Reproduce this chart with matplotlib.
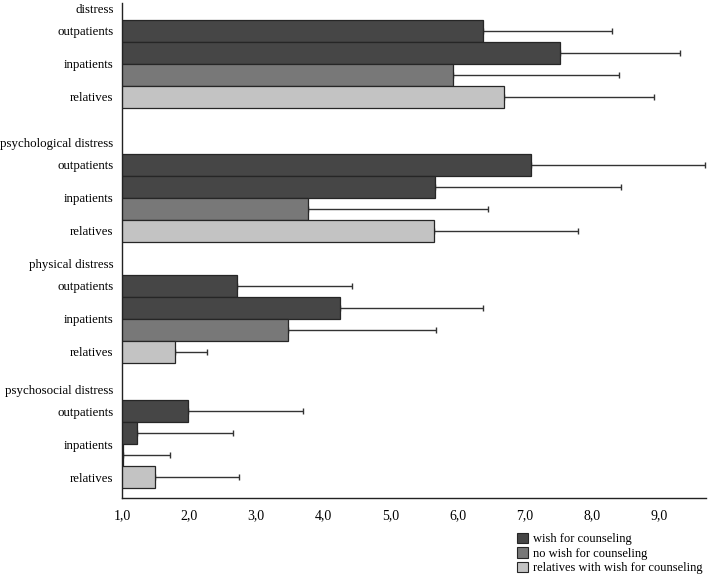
import numpy as np
import matplotlib
matplotlib.use("Agg")
import matplotlib.pyplot as plt
from matplotlib.patches import Patch

plt.rcParams['font.family'] = ['Liberation Serif', 'DejaVu Serif']

# Data: mean values and upper end of error bars (mean + SD)
groups = ["distress", "psychological distress", "physical distress", "psychosocial distress"]
out_mean = [6.38, 7.10, 2.72, 1.99]
out_err = [8.30, 9.69, 4.42, 3.69]
in_wish_mean = [7.52, 5.67, 4.25, 1.23]
in_wish_err = [9.31, 8.43, 6.38, 2.66]
in_no_mean = [5.93, 3.77, 3.47, 1.02]
in_no_err = [8.40, 6.45, 5.68, 1.72]
rel_mean = [6.69, 5.65, 1.79, 1.49]
rel_err = [8.93, 7.79, 2.26, 2.75]

x_ticks = [1, 2, 3, 4, 5, 6, 7, 8, 9]
legend_labels = ["wish for counseling", "no wish for counseling",
                 "relatives with wish for counseling"]

# Styles
WISH_COL = "#464646"
NOWISH_COL = "#787878"
REL_COL = "#c3c3c3"
EDGE_COL = "#262626"

# Layout (slot units, 1 slot = one bar)
group_start = [0.77, 6.86, 12.36, 18.05]

fig = plt.figure(figsize=(7.09, 5.77), dpi=100)
ax = fig.add_axes([122 / 709, 79 / 577, 584 / 709, 495 / 577])

series = [
    (out_mean, out_err, WISH_COL, 0),
    (in_wish_mean, in_wish_err, WISH_COL, 1),
    (in_no_mean, in_no_err, NOWISH_COL, 2),
    (rel_mean, rel_err, REL_COL, 3),
]

for means, errs, col, k in series:
    y = np.array(group_start) + 0.5 + k
    means = np.array(means)
    sd = np.array(errs) - means
    ax.barh(y, means, height=1.0, color=col, edgecolor=EDGE_COL, linewidth=0.9, zorder=2)
    ax.errorbar(means, y, xerr=[np.zeros_like(sd), sd], fmt="none",
                ecolor="#333333", elinewidth=1.0, capsize=2.5, capthick=1.0, zorder=1)

# Row labels via y ticks
ticks, labels = [], []
for i, g in enumerate(groups):
    s = group_start[i]
    ticks += [s - 0.5, s + 0.5, s + 2.0, s + 3.5]
    labels += [g, "outpatients", "inpatients", "relatives"]
ax.set_yticks(ticks)
ax.set_yticklabels(labels, fontsize=9.3)
ax.tick_params(axis="y", length=0, pad=6)

ax.set_xlim(1, 9.7)
ax.set_ylim(22.5, 0)
ax.set_xticks(x_ticks)
ax.set_xticklabels([f"{v:.1f}".replace(".", ",") for v in x_ticks], fontsize=10)
ax.tick_params(axis="x", length=0, pad=8)

for sp in ["top", "right"]:
    ax.spines[sp].set_visible(False)
for sp in ["left", "bottom"]:
    ax.spines[sp].set_color("#222222")
    ax.spines[sp].set_linewidth(1.0)

handles = [Patch(facecolor=c, edgecolor=EDGE_COL, linewidth=0.8)
           for c in [WISH_COL, NOWISH_COL, REL_COL]]
fig.legend(handles, legend_labels, loc="upper left",
           bbox_to_anchor=(508 / 709, 1 - 524 / 577), frameon=False,
           fontsize=9, handlelength=0.9, handleheight=0.9,
           handletextpad=0.4, labelspacing=0.15, borderpad=0.2)

fig.savefig("out.png", dpi=100)
